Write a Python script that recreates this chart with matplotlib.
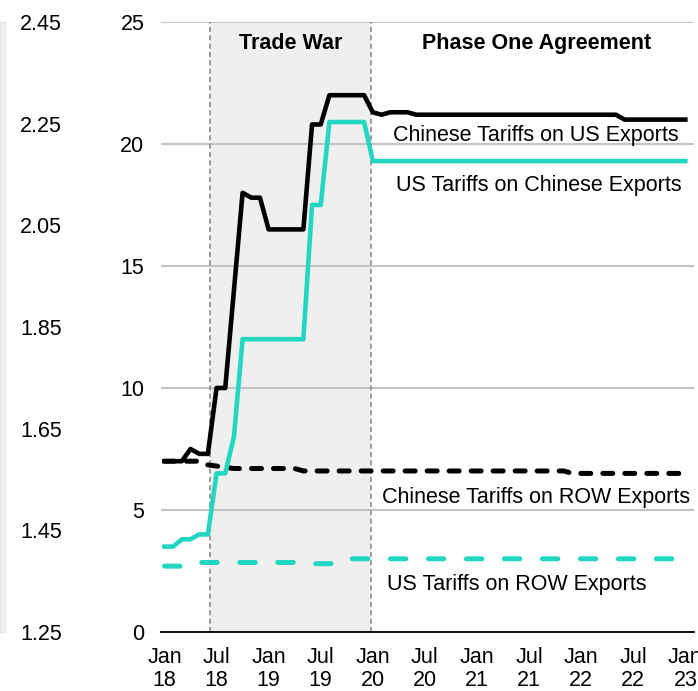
import numpy as np
import matplotlib
matplotlib.use("Agg")
from matplotlib import pyplot as plt

plt.rcParams['font.family'] = ['Liberation Sans', 'DejaVu Sans']

# monthly observations, Jan 2018 .. Jan 2023
cn_on_us = [7.0, 7.0, 7.0, 7.5, 7.3, 7.3,
            10.0, 10.0, 14.0, 18.0, 17.8, 17.8,
            16.5, 16.5, 16.5, 16.5, 16.5, 20.8,
            20.8, 22.0, 22.0, 22.0, 22.0, 22.0,
            21.3, 21.2, 21.3, 21.3, 21.3, 21.2,
            21.2, 21.2, 21.2, 21.2, 21.2, 21.2,
            21.2, 21.2, 21.2, 21.2, 21.2, 21.2,
            21.2, 21.2, 21.2, 21.2, 21.2, 21.2,
            21.2, 21.2, 21.2, 21.2, 21.2, 21.0,
            21.0, 21.0, 21.0, 21.0, 21.0, 21.0,
            21.0]
us_on_cn = [3.5, 3.5, 3.8, 3.8, 4.0, 4.0,
            6.5, 6.5, 8.0, 12.0, 12.0, 12.0,
            12.0, 12.0, 12.0, 12.0, 12.0, 17.5,
            17.5, 20.9, 20.9, 20.9, 20.9, 20.9,
            19.3, 19.3, 19.3, 19.3, 19.3, 19.3,
            19.3, 19.3, 19.3, 19.3, 19.3, 19.3,
            19.3, 19.3, 19.3, 19.3, 19.3, 19.3,
            19.3, 19.3, 19.3, 19.3, 19.3, 19.3,
            19.3, 19.3, 19.3, 19.3, 19.3, 19.3,
            19.3, 19.3, 19.3, 19.3, 19.3, 19.3,
            19.3]
cn_on_row = [7.0, 7.0, 7.0, 7.0, 7.0, 6.85,
             6.8, 6.75, 6.7, 6.7, 6.7, 6.7,
             6.7, 6.7, 6.7, 6.7, 6.6, 6.6,
             6.6, 6.6, 6.6, 6.6, 6.6, 6.6,
             6.6, 6.6, 6.6, 6.6, 6.6, 6.6,
             6.6, 6.6, 6.6, 6.6, 6.6, 6.6,
             6.6, 6.6, 6.6, 6.6, 6.6, 6.6,
             6.6, 6.6, 6.6, 6.6, 6.6, 6.5,
             6.5, 6.5, 6.5, 6.5, 6.5, 6.5,
             6.5, 6.5, 6.5, 6.5, 6.5, 6.5,
             6.5]
us_on_row = [2.7, 2.7, 2.7, 2.7, 2.85, 2.85,
             2.85, 2.85, 2.85, 2.85, 2.85, 2.85,
             2.85, 2.85, 2.85, 2.85, 2.85, 2.8,
             2.8, 2.8, 2.8, 3.0, 3.0, 3.0,
             3.0, 3.0, 3.0, 3.0, 3.0, 3.0,
             3.0, 3.0, 3.0, 3.0, 3.0, 3.0,
             3.0, 3.0, 3.0, 3.0, 3.0, 3.0,
             3.0, 3.0, 3.0, 3.0, 3.0, 3.0,
             3.0, 3.0, 3.0, 3.0, 3.0, 3.0,
             3.0, 3.0, 3.0, 3.0, 3.0, 3.0,
             3.0]

tick_labels = ['Jan\n18', 'Jul\n18', 'Jan\n19', 'Jul\n19', 'Jan\n20', 'Jul\n20',
               'Jan\n21', 'Jul\n21', 'Jan\n22', 'Jul\n22', 'Jan\n23']
left_ticks = [1.25, 1.45, 1.65, 1.85, 2.05, 2.25, 2.45]

TEAL = '#22d6c1'
FS = 15.5
months = np.arange(len(cn_on_us))

fig = plt.figure(figsize=(6.98, 6.91), dpi=100)
ax = fig.add_axes([161/698, 1-632/691, 533/698, 610/691])

# shaded trade-war period
war_start, war_end = 5.25, 23.75
ax.axvspan(war_start, war_end, color='#efefef', zorder=0, lw=0)
for xv in (war_start, war_end):
    ax.axvline(xv, color='#8c8c8c', lw=1.2, ls=(0, (3, 2)), zorder=1)

ax.plot(months, cn_on_row, color='black', lw=3.6, ls=(0, (2.0, 2.4)),
        dash_capstyle='round', zorder=3)
ax.plot(months, us_on_row, color=TEAL, lw=3.6, ls=(0, (3.1, 4.5)),
        dash_capstyle='round', zorder=3)
ax.plot(months, us_on_cn, color=TEAL, lw=3.3, solid_joinstyle='round', zorder=4)
ax.plot(months, cn_on_us, color='black', lw=3.3, solid_joinstyle='round', zorder=5)

ax.set_xlim(-0.4, 61.0)
ax.set_ylim(0, 25)
ax.set_yticks([0, 5, 10, 15, 20, 25])
ax.set_xticks(np.arange(0, 61, 6))
ax.set_xticklabels(tick_labels, linespacing=1.1)
ax.yaxis.grid(True, color='#c4c4c4', lw=1.5, zorder=0)
ax.set_axisbelow(True)
ax.tick_params(axis='y', length=0, pad=12, labelsize=FS)
ax.tick_params(axis='x', length=0, pad=11, labelsize=FS)
for s in ('left', 'right', 'top'):
    ax.spines[s].set_visible(False)
ax.spines['bottom'].set_linewidth(1.3)
ax.spines['bottom'].set_zorder(6)

ax.text(14.5, 24.1, 'Trade War', ha='center', va='center', fontsize=FS, fontweight='bold')
ax.text(42.9, 24.1, 'Phase One Agreement', ha='center', va='center', fontsize=FS, fontweight='bold')
ax.text(42.8, 20.35, 'Chinese Tariffs on US Exports', ha='center', va='center', fontsize=FS)
ax.text(43.1, 18.3, 'US Tariffs on Chinese Exports', ha='center', va='center', fontsize=FS)
ax.text(42.8, 5.5, 'Chinese Tariffs on ROW Exports', ha='center', va='center', fontsize=FS)
ax.text(40.6, 1.95, 'US Tariffs on ROW Exports', ha='center', va='center', fontsize=FS)

# edge of the neighbouring panel on the left
axl = fig.add_axes([0, 1-632/691, 5/698, 610/691], facecolor='#f0f0f0')
axl.set_ylim(1.25, 2.45)
axl.set_yticks(left_ticks)
axl.set_yticklabels(['%.2f' % v for v in left_ticks])
axl.set_xticks([])
axl.yaxis.tick_right()
axl.tick_params(axis='y', length=0, pad=11, labelsize=FS)
for s in axl.spines.values():
    s.set_color('#e4e4e4')

fig.savefig('out.png', dpi=100)
